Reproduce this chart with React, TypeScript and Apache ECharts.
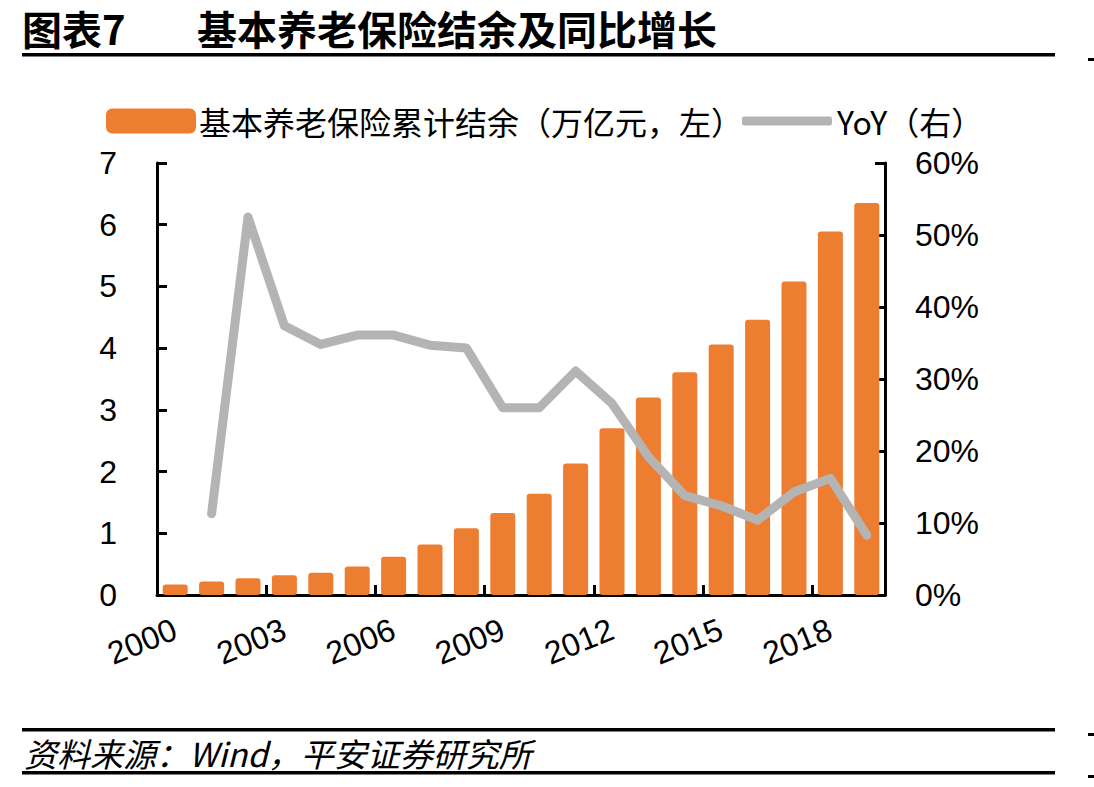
import React, { useEffect, useRef } from "react";
import * as echarts from "echarts";

const years = ["2000","2001","2002","2003","2004","2005","2006","2007","2008","2009","2010","2011","2012","2013","2014","2015","2016","2017","2018","2019"];
const balance = [0.17,0.22,0.27,0.32,0.36,0.46,0.62,0.82,1.08,1.33,1.64,2.13,2.70,3.20,3.61,4.06,4.46,5.08,5.89,6.35];
const yoy = [null,11.3,52.5,37.4,34.8,36.1,36.1,34.7,34.3,26.0,26.0,31.1,26.6,19.2,13.8,12.4,10.4,14.3,16.2,8.3];
const barName = "基本养老保险累计结余（万亿元，左）";
const lineName = "YoY（右）";
const chartTitleA = "图表7";
const chartTitleB = "基本养老保险结余及同比增长";
const sourceText = "资料来源：Wind，平安证券研究所";

const CJK = "'Noto Sans CJK SC', 'Noto Sans', sans-serif";
const LAT = "'Liberation Sans', Arial, sans-serif";

export default function App() {
  const ref = useRef<HTMLDivElement>(null);
  useEffect(() => {
    document.body.style.margin = "0";
    const chart = echarts.init(ref.current!, null, { renderer: "svg" });
    chart.setOption({
      animation: false,
      backgroundColor: "#ffffff",
      grid: { left: 157, right: 209, top: 163, bottom: 192, containLabel: false },
      legend: [
        {
          left: 101, top: 100, itemWidth: 90, itemHeight: 25, itemGap: 10,
          data: [{ name: barName, icon: "roundRect" }],
          textStyle: { fontSize: 32, fontFamily: CJK, color: "#000", padding: [0, 0, 0, -2] },
        },
        {
          left: 737, top: 100, itemWidth: 90, itemHeight: 9,
          data: [{ name: lineName, icon: "roundRect" }],
          textStyle: { fontSize: 32, fontFamily: CJK, color: "#000" },
        },
      ],
      xAxis: {
        type: "category",
        data: years,
        boundaryGap: true,
        axisLine: { lineStyle: { color: "#000", width: 3 } },
        axisTick: { show: true, inside: true, length: 10, interval: 2, lineStyle: { color: "#000", width: 3 } },
        axisLabel: { interval: 2, rotate: 22, margin: 33, fontSize: 32, fontFamily: LAT, color: "#000" },
        splitLine: { show: false },
      },
      yAxis: [
        {
          type: "value", min: 0, max: 7, interval: 1,
          axisLine: { show: true, lineStyle: { color: "#000", width: 3 } },
          axisTick: { show: true, inside: true, length: 10, lineStyle: { color: "#000", width: 3 } },
          axisLabel: { margin: 40, fontSize: 32, fontFamily: LAT, color: "#000" },
          splitLine: { show: false },
        },
        {
          type: "value", min: 0, max: 60, interval: 10, position: "right",
          axisLine: { show: true, lineStyle: { color: "#000", width: 3 } },
          axisTick: { show: true, inside: true, length: 10, lineStyle: { color: "#000", width: 3 } },
          axisLabel: { margin: 30, fontSize: 32, fontFamily: LAT, color: "#000", formatter: "{value}%" },
          splitLine: { show: false },
        },
      ],
      series: [
        {
          name: barName, type: "bar", data: balance, yAxisIndex: 0,
          barWidth: 25,
          itemStyle: { color: "#ED7D31", borderRadius: 3 },
        },
        {
          name: lineName, type: "line", data: yoy, yAxisIndex: 1,
          symbol: "none", connectNulls: false,
          itemStyle: { color: "#B4B4B4" },
          lineStyle: { color: "#B4B4B4", width: 9, cap: "round", join: "round" },
        },
      ],
      graphic: [
        { type: "text", x: 22, y: 28, style: { text: chartTitleA, font: `bold 40px ${CJK}`, fill: "#000", verticalAlign: "middle" } },
        { type: "text", x: 197, y: 28, style: { text: chartTitleB, font: `bold 40px ${CJK}`, fill: "#000", verticalAlign: "middle" } },
        { type: "rect", shape: { x: 22, y: 53, width: 1033, height: 3.5 }, style: { fill: "#000" } },
        { type: "rect", shape: { x: 1088, y: 58, width: 6, height: 3 }, style: { fill: "#000" } },
        { type: "rect", shape: { x: 22, y: 728, width: 1033, height: 3.5 }, style: { fill: "#000" } },
        { type: "rect", shape: { x: 1088, y: 733, width: 6, height: 3 }, style: { fill: "#000" } },
        { type: "text", x: 24, y: 753, style: { text: sourceText, font: `italic 33px ${CJK}`, fill: "#000", verticalAlign: "middle" } },
        { type: "rect", shape: { x: 22, y: 771, width: 1033, height: 3.5 }, style: { fill: "#000" } },
        { type: "rect", shape: { x: 1088, y: 775, width: 6, height: 3 }, style: { fill: "#000" } },
      ],
    });
    return () => chart.dispose();
  }, []);
  return <div ref={ref} style={{ position: "absolute", left: 0, top: 0, width: 1094, height: 787 }} />;
}
